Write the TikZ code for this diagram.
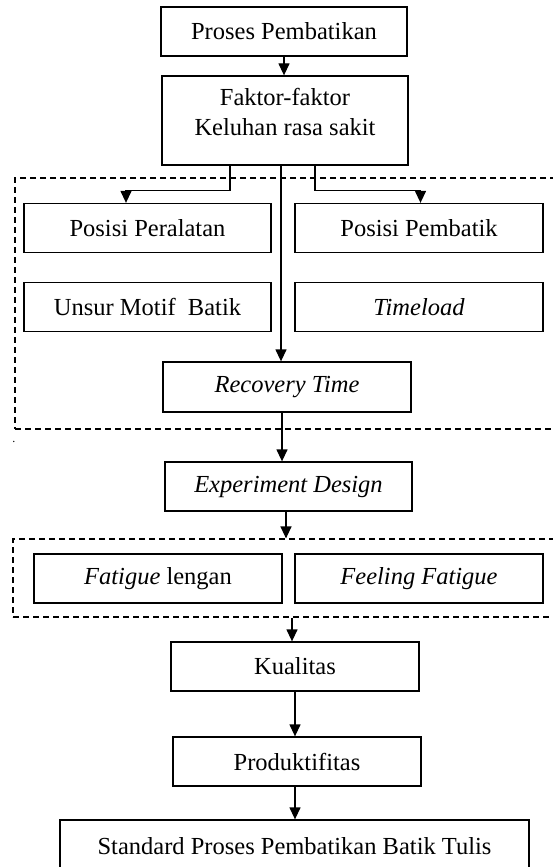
\documentclass[tikz,border=0pt]{standalone}
\usepackage{fontspec}
\setmainfont{Liberation Serif}
\usetikzlibrary{arrows.meta}

\tikzset{
  unit/.style={draw, line width=1.3pt, inner sep=0pt, minimum width=247pt,
    minimum height=49pt, align=center, font=\fontsize{24.5}{30}\selectfont},
  group/.style={draw, line width=1.2pt, dash pattern=on 6pt off 4pt, inner sep=0pt},
  link/.style={line width=1.3pt, -{Triangle[length=12pt,width=11pt]}},
}

\begin{document}
\begin{tikzpicture}[x=1pt,y=-1pt]
  \useasboundingbox (0,0) rectangle (553,867);
  \clip (0,0) rectangle (553,867);

  % dashed groups
  \node[group, minimum width=550pt, minimum height=251pt] (grpA) at (290,303.5) {};
  \node[group, minimum width=552pt, minimum height=78pt] (grpB) at (289,578) {};

  % units
  \node[unit, minimum width=246pt] (proses) at (284,31.5) {Proses Pembatikan};
  \node[unit, minimum width=246pt, minimum height=89pt, text depth=18pt] (faktor)
    at (285,120.5) {Faktor-faktor\\Keluhan rasa sakit};
  \node[unit] (peralatan) at (147.5,228) {Posisi Peralatan};
  \node[unit, minimum width=248pt] (pembatik) at (419,228) {Posisi Pembatik};
  \node[unit] (motif) at (147.5,307) {Unsur Motif~ Batik};
  \node[unit, minimum width=248pt] (timeload) at (419,307) {\textit{Timeload}};
  \node[unit, minimum width=248pt, minimum height=50pt] (recovery) at (287,387)
    {\textit{Recovery Time}};
  \node[font=\fontsize{12}{14}\selectfont, inner sep=0pt] (stray) at (14,442) {.};
  \node[unit] (experiment) at (288.5,486.5) {\textit{Experiment Design}};
  \node[unit, minimum width=248pt] (lengan) at (158,578.5) {\textit{Fatigue} lengan};
  \node[unit, minimum width=248pt] (feeling) at (419,578.5) {\textit{Feeling Fatigue}};
  \node[unit, minimum width=248pt] (kualitas) at (295,666.5) {Kualitas};
  \node[unit, minimum width=248pt] (produktif) at (297,761.5) {Produktifitas};
  \node[unit, minimum width=469pt, minimum height=52pt] (standard) at (294.5,846)
    {Standard Proses Pembatikan Batik Tulis};

  % Coordinates
  \coordinate (tapL) at ([xshift=-55pt]faktor.south);
  \coordinate (tapM) at ([xshift=-4pt]faktor.south);
  \coordinate (tapR) at ([xshift=30pt]faktor.south);
  \coordinate (tapRec) at ([xshift=-5pt]recovery.south);
  \coordinate (tapExp) at ([xshift=-2.5pt]experiment.south);
  \coordinate (tapGrp) at ([xshift=3pt]grpB.south);
  \coordinate (tapPro) at ([xshift=-2pt]produktif.south);

  % connecting the units
  \draw[link] (proses.south) -- (proses.south |- faktor.north);
  \draw[link] (tapL) -- ++(0,25) -| ([xshift=-21.5pt]peralatan.north);
  \draw[link] (tapR) -- ++(0,25) -| ([xshift=1.5pt]pembatik.north);
  \draw[link] (tapM) -- (tapM |- recovery.north);
  \draw[link] (tapRec) -- (tapRec |- experiment.north);
  \draw[link] (tapExp) -- (tapExp |- grpB.north);
  \draw[link] (tapGrp) -- (tapGrp |- kualitas.north);
  \draw[link] (kualitas.south) -- (kualitas.south |- produktif.north);
  \draw[link] (tapPro) -- (tapPro |- standard.north);

\end{tikzpicture}
\end{document}
